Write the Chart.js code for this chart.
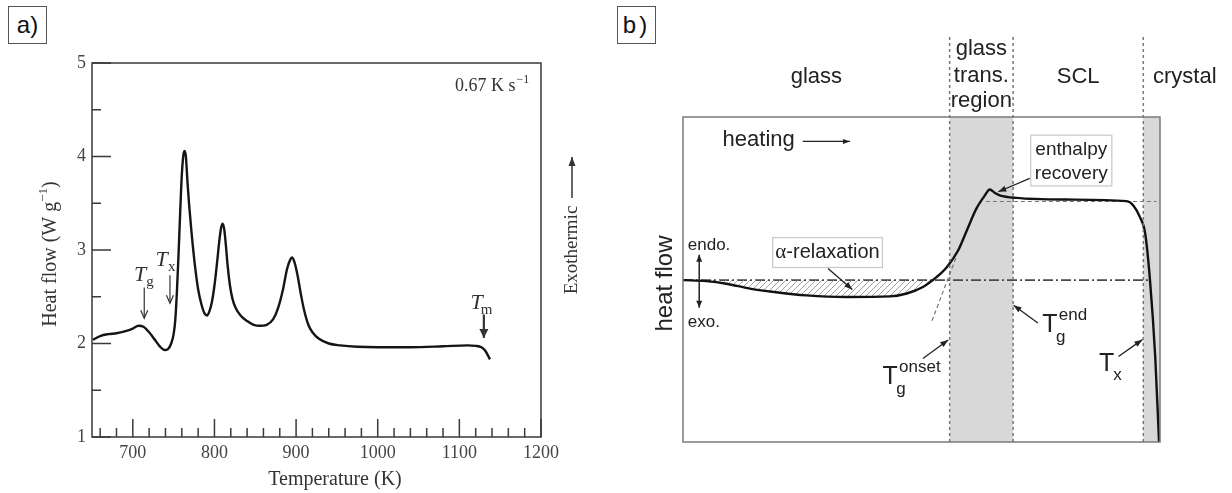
<!DOCTYPE html>
<html><head><meta charset="utf-8">
<script src="https://cdn.jsdelivr.net/npm/chart.js@4.4.1/dist/chart.umd.min.js"></script>
<style>
body{margin:0;background:#fff;width:1232px;height:493px;overflow:hidden;position:relative;font-family:"Liberation Sans",Arial,sans-serif}
canvas{position:absolute;top:0}
#ca{left:0}
#cb{left:616px}
.lab{position:absolute;z-index:5;border:1px solid #555;background:#fff;font-size:24px;color:#111;text-align:center;box-sizing:border-box;width:39px;height:38px;line-height:36px}
</style></head>
<body>
<div class="lab" style="left:8px;top:6px;">a)</div>
<div class="lab" style="left:617px;top:6px;letter-spacing:3px;">b)</div>
<canvas id="ca" width="616" height="493"></canvas>
<canvas id="cb" width="616" height="493"></canvas>
<script>
// ---------- Panel a data ----------
const tempA = [651,660,670,680,690,700,707,713,720,727,733,739,743,747,750,752,754,756,758,760,762,763.5,765,767,769,772,776,780,784,788,791,794,797,800,803,806,808,810,812,814,816,819,822,826,832,840,848,856,864,872,878,884,889,893,895,898,902,906,910,915,920,928,940,954,975,1000,1040,1080,1110,1120,1127,1131,1134,1137.5];
const heatA = [2.04,2.08,2.10,2.11,2.13,2.16,2.19,2.18,2.12,2.04,1.97,1.93,1.94,2.00,2.10,2.25,2.55,2.95,3.40,3.80,4.02,4.06,4.00,3.72,3.48,3.18,2.84,2.58,2.42,2.32,2.30,2.35,2.45,2.62,2.85,3.10,3.23,3.28,3.22,3.05,2.85,2.62,2.48,2.38,2.30,2.24,2.20,2.19,2.20,2.26,2.38,2.58,2.80,2.90,2.92,2.87,2.72,2.52,2.35,2.20,2.12,2.05,2.00,1.98,1.965,1.96,1.96,1.97,1.98,1.975,1.96,1.93,1.89,1.83];
const xTicksA = [660,680,700,720,740,760,780,800,820,840,860,880,900,920,940,960,980,1000,1020,1040,1060,1080,1100,1120,1140,1160,1180,1200];
const xLabelsA = [700,800,900,1000,1100,1200];
const yTicksA = [1,1.5,2,2.5,3,3.5,4,4.5,5];
const yLabelsA = [1,2,3,4,5];

// ---------- Panel b data ----------
const curveBx = [0,4.9,9.1,14.0,18.9,25.9,34.3,43.4,46.9,50.3,53.2,55.3,57.7,59.5,61.5,63.3,64.3,65.4,66.4,69.9,80.4,93.0,94.4,95.8,96.9,97.9,99.0,99.8];
const curveBy = [49.8,49.5,48.7,47.2,46.2,45.1,44.6,44.8,45.7,47.7,50.8,53.8,59.0,65.1,71.8,75.9,77.7,76.6,75.9,75.1,74.6,74.1,72.8,69.2,64.1,49.8,26.2,0];
const baseB = 49.8;          // dash-dot reference level
const hatchEndB = 52.3;      // where curve meets reference line
const plateauB = 74.0;       // dashed SCL level
const regionEdgesB = [55.9, 69.2, 96.5];   // Tg onset, Tg end, Tx
const regionNamesB = ['glass', 'SCL', 'crystal'];

const SERIF = '"Liberation Serif","Times New Roman",serif';
const SANS = '"Liberation Sans",Arial,sans-serif';

function arrowHead(ctx, x1, y1, x2, y2, len, wid, filled) {
  const a = Math.atan2(y2 - y1, x2 - x1);
  const bx = x2 - len * Math.cos(a), by = y2 - len * Math.sin(a);
  const nx = -Math.sin(a) * wid, ny = Math.cos(a) * wid;
  ctx.beginPath();
  if (filled) {
    ctx.moveTo(x2, y2); ctx.lineTo(bx + nx, by + ny); ctx.lineTo(bx - nx, by - ny); ctx.closePath(); ctx.fill();
  } else {
    ctx.moveTo(bx + nx, by + ny); ctx.lineTo(x2, y2); ctx.lineTo(bx - nx, by - ny); ctx.stroke();
  }
}
function arrow(ctx, x1, y1, x2, y2, len, wid, filled) {
  ctx.beginPath(); ctx.moveTo(x1, y1); ctx.lineTo(x2, y2); ctx.stroke();
  arrowHead(ctx, x1, y1, x2, y2, len, wid, filled);
}

// ---------- Panel a ----------
const annA = {
  id: 'annA',
  afterDatasetsDraw(chart) {
    const {ctx, chartArea: c, scales: {x, y}} = chart;
    ctx.save();
    ctx.strokeStyle = '#3a3a3a'; ctx.lineWidth = 1.5;
    ctx.strokeRect(c.left, c.top, c.width, c.height);
    ctx.beginPath();
    xTicksA.forEach(v => {
      const p = x.getPixelForValue(v), L = xLabelsA.includes(v) ? 18 : 9;
      ctx.moveTo(p, c.bottom); ctx.lineTo(p, c.bottom - L);
    });
    yTicksA.forEach(v => {
      const p = y.getPixelForValue(v), L = yLabelsA.includes(v) ? 19 : 9;
      ctx.moveTo(c.left, p); ctx.lineTo(c.left + L, p);
    });
    ctx.stroke();

    ctx.fillStyle = '#333'; ctx.strokeStyle = '#333';
    // rate label
    ctx.textBaseline = 'alphabetic'; ctx.textAlign = 'left';
    ctx.font = '18px ' + SERIF;
    const rx = c.right - 86, ry = c.top + 28;
    ctx.fillText('0.67 K s', rx, ry);
    const w = ctx.measureText('0.67 K s').width;
    ctx.font = '12px ' + SERIF;
    ctx.fillText('\u22121', rx + w + 1, ry - 8);

    // T labels
    function tLab(T, H, sub) {
      const px = x.getPixelForValue(T), py = y.getPixelForValue(H);
      ctx.textAlign = 'center'; ctx.textBaseline = 'middle';
      ctx.font = 'italic 22px ' + SERIF; ctx.fillText('T', px, py);
      ctx.font = '15px ' + SERIF; ctx.fillText(sub, px + 10, py + 7);
    }
    tLab(708.8, 2.73, 'g');
    tLab(735.4, 2.89, 'x');
    tLab(1121.2, 2.43, 'm');
    ctx.lineWidth = 1.2;
    arrow(ctx, x.getPixelForValue(714), y.getPixelForValue(2.60), x.getPixelForValue(714), y.getPixelForValue(2.27), 8, 3.5, false);
    arrow(ctx, x.getPixelForValue(745.5), y.getPixelForValue(2.73), x.getPixelForValue(745.5), y.getPixelForValue(2.43), 8, 3.5, false);
    ctx.lineWidth = 2.2;
    arrow(ctx, x.getPixelForValue(1130), y.getPixelForValue(2.31), x.getPixelForValue(1130), y.getPixelForValue(2.06), 9, 4.5, true);

    // axis titles
    ctx.textAlign = 'center'; ctx.textBaseline = 'middle';
    ctx.font = '20px ' + SERIF;
    ctx.fillText('Temperature (K)', c.left + 243, 480);
    ctx.save();
    ctx.translate(51, (c.top + c.bottom) / 2 + 4);
    ctx.rotate(-Math.PI / 2);
    const t1 = 'Heat flow (W g', t3 = ')';
    ctx.font = '20px ' + SERIF; const w1 = ctx.measureText(t1).width, w3 = ctx.measureText(t3).width;
    ctx.font = '13px ' + SERIF; const w2 = ctx.measureText('\u22121').width;
    let sx = -(w1 + w2 + w3) / 2;
    ctx.textAlign = 'left';
    ctx.font = '20px ' + SERIF; ctx.fillText(t1, sx, 0);
    ctx.font = '13px ' + SERIF; ctx.fillText('\u22121', sx + w1, -7);
    ctx.font = '20px ' + SERIF; ctx.fillText(t3, sx + w1 + w2, 0);
    ctx.restore();

    // Exothermic
    ctx.save();
    ctx.translate(c.right + 31, 250);
    ctx.rotate(-Math.PI / 2);
    ctx.font = '19px ' + SERIF; ctx.textAlign = 'center'; ctx.textBaseline = 'middle';
    ctx.fillText('Exothermic', 0, 0);
    ctx.lineWidth = 1.5;
    arrow(ctx, 52, 0, 93, 0, 9, 3.5, true);
    ctx.restore();
    ctx.restore();
  }
};

new Chart(document.getElementById('ca'), {
  type: 'line',
  data: {datasets: [{
    data: tempA.map((t, i) => ({x: t, y: heatA[i]})),
    borderColor: '#151515', borderWidth: 2.4, pointRadius: 0,
    cubicInterpolationMode: 'monotone', fill: false
  }]},
  options: {
    responsive: false, animation: false, devicePixelRatio: 1,
    layout: {padding: {left: 10, right: 75, top: 63, bottom: 0}},
    plugins: {legend: {display: false}, tooltip: {enabled: false}},
    scales: {
      x: {
        type: 'linear', min: 650, max: 1200,
        afterBuildTicks: s => { s.ticks = xTicksA.map(v => ({value: v})); },
        afterFit: s => { s.height = 56; },
        ticks: {callback: v => xLabelsA.includes(v) ? String(v) : '', autoSkip: false, maxRotation: 0,
                font: {family: SERIF, size: 18}, color: '#444', padding: 5},
        grid: {display: false, drawTicks: false}, border: {display: false}
      },
      y: {
        type: 'linear', min: 1, max: 5,
        afterBuildTicks: s => { s.ticks = yTicksA.map(v => ({value: v})); },
        afterFit: s => { s.width = 82; },
        ticks: {callback: v => yLabelsA.includes(v) ? String(v) : '', autoSkip: false,
                font: {family: SERIF, size: 18}, color: '#444', padding: 6},
        grid: {display: false, drawTicks: false}, border: {display: false}
      }
    }
  },
  plugins: [annA]
});

// ---------- Panel b ----------
function makeHatch() {
  const c = document.createElement('canvas'); c.width = 6; c.height = 6;
  const g = c.getContext('2d');
  g.strokeStyle = '#a0a0a0'; g.lineWidth = 1;
  g.beginPath(); g.moveTo(0, 6); g.lineTo(6, 0); g.moveTo(-1, 1); g.lineTo(1, -1); g.moveTo(5, 7); g.lineTo(7, 5); g.stroke();
  return g.createPattern(c, 'repeat');
}

const bgB = {
  id: 'bgB',
  beforeDatasetsDraw(chart) {
    const {ctx, chartArea: c, scales: {x, y}} = chart;
    ctx.save();
    ctx.fillStyle = '#d8d8d8';
    const e0 = x.getPixelForValue(regionEdgesB[0]), e1 = x.getPixelForValue(regionEdgesB[1]), e2 = x.getPixelForValue(regionEdgesB[2]);
    ctx.fillRect(e0, c.top, e1 - e0, c.height);
    ctx.fillRect(e2, c.top, c.right - e2, c.height);
    // dash-dot reference
    ctx.strokeStyle = '#4a4a4a'; ctx.lineWidth = 1.6; ctx.setLineDash([10, 3, 2, 3]);
    ctx.beginPath(); ctx.moveTo(c.left, y.getPixelForValue(baseB)); ctx.lineTo(x.getPixelForValue(97.9), y.getPixelForValue(baseB)); ctx.stroke();
    // dashed plateau tangent
    ctx.strokeStyle = '#777'; ctx.lineWidth = 1.2; ctx.setLineDash([4, 3]);
    ctx.beginPath(); ctx.moveTo(x.getPixelForValue(63.5), y.getPixelForValue(plateauB)); ctx.lineTo(x.getPixelForValue(99.3), y.getPixelForValue(plateauB)); ctx.stroke();
    // onset tangent
    ctx.beginPath(); ctx.moveTo(x.getPixelForValue(52.2), y.getPixelForValue(37.3)); ctx.lineTo(x.getPixelForValue(57.4), y.getPixelForValue(57.4)); ctx.stroke();
    ctx.restore();
  },
  afterDatasetsDraw(chart) {
    const {ctx, chartArea: c, scales: {x, y}} = chart;
    ctx.save();
    ctx.strokeStyle = '#7a7a7a'; ctx.lineWidth = 1.5;
    ctx.strokeRect(c.left, c.top, c.width, c.height);
    ctx.strokeStyle = '#777'; ctx.lineWidth = 1.5; ctx.setLineDash([3, 3]);
    regionEdgesB.forEach(v => {
      const p = x.getPixelForValue(v);
      ctx.beginPath(); ctx.moveTo(p, 37); ctx.lineTo(p, c.bottom); ctx.stroke();
    });
    ctx.setLineDash([]);

    const X = v => x.getPixelForValue(v), Y = v => y.getPixelForValue(v);
    ctx.fillStyle = '#222'; ctx.strokeStyle = '#222';
    ctx.textAlign = 'center'; ctx.textBaseline = 'middle';
    ctx.font = '22px ' + SANS;
    ctx.fillText(regionNamesB[0], X(regionEdgesB[0] / 2), 77);
    ctx.fillText(regionNamesB[1], X((regionEdgesB[1] + regionEdgesB[2]) / 2), 77);
    ctx.fillText(regionNamesB[2], X(105.2), 77);
    const mid = X((regionEdgesB[0] + regionEdgesB[1]) / 2);
    ctx.fillText('glass', mid, 49);
    ctx.fillText('trans.', mid, 76);
    ctx.fillText('region', mid, 101);

    ctx.textAlign = 'left';
    ctx.fillText('heating', X(8.3), Y(92.8));
    ctx.lineWidth = 1.2;
    arrow(ctx, X(25.1), Y(92.5), X(35.0), Y(92.5), 7, 2.5, true);

    ctx.save();
    ctx.translate(c.left - 18, (c.top + c.bottom) / 2 + 4);
    ctx.rotate(-Math.PI / 2);
    ctx.textAlign = 'center'; ctx.font = '24px ' + SANS;
    ctx.fillText('heat flow', 0, 0);
    ctx.restore();

    ctx.font = '17px ' + SANS; ctx.textAlign = 'left';
    ctx.fillText('endo.', X(1.0), Y(60.5));
    ctx.fillText('exo.', X(1.0), Y(36.9));
    ctx.lineWidth = 1.5;
    arrow(ctx, X(3.4), Y(49.5), X(3.4), Y(57.6), 7, 3, true);
    arrow(ctx, X(3.4), Y(49.5), X(3.4), Y(41.3), 7, 3, true);

    function box(x0, x1, y0, y1) {
      ctx.save(); ctx.fillStyle = '#fff'; ctx.strokeStyle = '#c8c8c8'; ctx.lineWidth = 1.2;
      ctx.fillRect(X(x0), Y(y1), X(x1) - X(x0), Y(y0) - Y(y1));
      ctx.strokeRect(X(x0), Y(y1), X(x1) - X(x0), Y(y0) - Y(y1));
      ctx.restore();
    }
    box(18.8, 41.8, 53.7, 62.9);
    ctx.textAlign = 'left'; ctx.textBaseline = 'middle';
    ctx.font = '21px ' + SERIF; const aw = ctx.measureText('\u03b1').width;
    ctx.font = '20px ' + SANS; const rw = ctx.measureText('-relaxation').width;
    const ax0 = X(30.3) - (aw + rw) / 2;
    ctx.font = '21px ' + SERIF; ctx.fillText('\u03b1', ax0, Y(58.2));
    ctx.font = '20px ' + SANS; ctx.fillText('-relaxation', ax0 + aw, Y(58.2));
    ctx.lineWidth = 1.3;
    arrow(ctx, X(30.4), Y(53.4), X(35.5), Y(46.9), 8, 3, true);

    box(72.9, 89.9, 78.8, 94.4);
    ctx.textAlign = 'center'; ctx.font = '19px ' + SANS;
    ctx.fillText('enthalpy', X(81.4), Y(89.9));
    ctx.fillText('recovery', X(81.4), Y(82.6));
    arrow(ctx, X(72.7), Y(81.1), X(66.1), Y(77.0), 8, 3, true);

    function tLabB(px, py, sub, sup) {
      ctx.textAlign = 'center'; ctx.textBaseline = 'middle';
      ctx.font = '25px ' + SANS; ctx.fillText('T', px, py);
      ctx.font = '17px ' + SANS; ctx.fillText(sub, px + 11, py + 12);
      if (sup) { ctx.textAlign = 'left'; ctx.fillText(sup, px + 9, py - 10); }
    }
    tLabB(X(43.4), Y(20.0), 'g', 'onset');
    arrow(ctx, X(50.3), Y(25.7), X(55.6), Y(31.4), 8, 3, true);
    tLabB(X(76.9), Y(35.9), 'g', 'end');
    arrow(ctx, X(74.4), Y(36.6), X(69.3), Y(42.1), 8, 3, true);
    tLabB(X(88.8), Y(24.1), 'x', null);
    arrow(ctx, X(91.3), Y(26.3), X(96.3), Y(31.5), 8, 3, true);
    ctx.restore();
  }
};

const hatchPts = [];
curveBx.forEach((v, i) => { if (v <= hatchEndB) hatchPts.push({x: v, y: curveBy[i]}); });
hatchPts.push({x: hatchEndB, y: baseB});

new Chart(document.getElementById('cb'), {
  type: 'line',
  data: {datasets: [
    {data: curveBx.map((v, i) => ({x: v, y: curveBy[i]})), borderColor: '#111', borderWidth: 2.4,
     pointRadius: 0, cubicInterpolationMode: 'monotone', fill: false},
    {data: hatchPts, borderWidth: 0, borderColor: 'rgba(0,0,0,0)', pointRadius: 0,
     cubicInterpolationMode: 'monotone', fill: {value: baseB}, backgroundColor: makeHatch()}
  ]},
  options: {
    responsive: false, animation: false, devicePixelRatio: 1,
    layout: {padding: {left: 67, right: 72, top: 117, bottom: 51}},
    plugins: {legend: {display: false}, tooltip: {enabled: false}},
    scales: {
      x: {type: 'linear', min: 0, max: 100, display: false},
      y: {type: 'linear', min: 0, max: 100, display: false}
    }
  },
  plugins: [bgB]
});
</script>
</body></html>
